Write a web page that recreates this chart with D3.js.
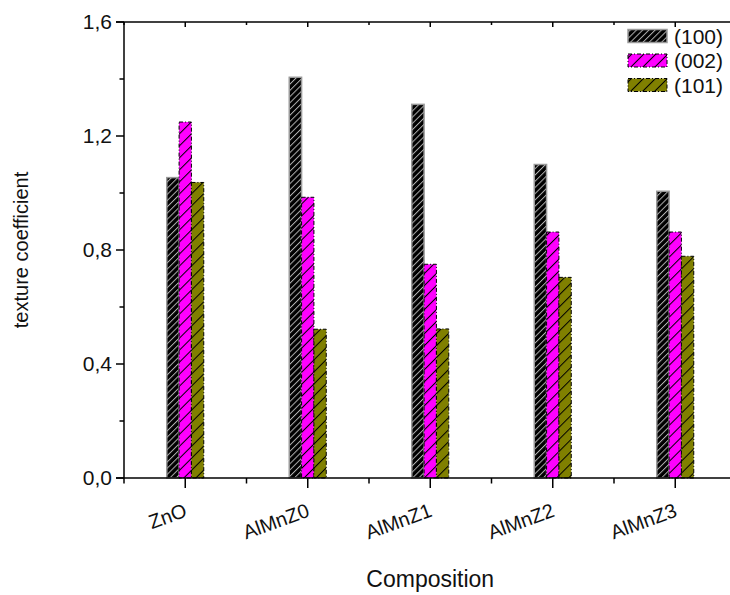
<!DOCTYPE html>
<html><head><meta charset="utf-8">
<script src="https://cdn.jsdelivr.net/npm/d3@7"></script>
<style>body{margin:0;background:#fff}svg{display:block}text{font-family:"Liberation Sans",Arial,sans-serif}</style>
</head><body>
<svg id="chart" width="730" height="595"></svg>
<script>
const categories = ["ZnO", "AlMnZ0", "AlMnZ1", "AlMnZ2", "AlMnZ3"];
const seriesNames = ["(100)", "(002)", "(101)"];
const values100 = [1.054, 1.406, 1.311, 1.10, 1.006];
const values002 = [1.249, 0.985, 0.750, 0.863, 0.863];
const values101 = [1.037, 0.522, 0.523, 0.704, 0.778];
const yTicks = [0, 0.4, 0.8, 1.2, 1.6];
const yTickLabels = ["0,0", "0,4", "0,8", "1,2", "1,6"];
const yMinorTicks = [0.2, 0.6, 1.0, 1.4];
const xTitle = "Composition";
const yTitle = "texture coefficient";

(function () {
const seriesValues = [values100, values002, values101];
const svg = d3.select("#chart");
const pLeft = 124, pRight = 736.5, pTop = 22, pBottom = 478;

const x0 = d3.scaleBand().domain(categories).range([pLeft, pRight]).paddingInner(0).paddingOuter(0);
const x1 = d3.scaleBand().domain(seriesNames).range([-18.5, 18.5]);
const y = d3.scaleLinear().domain([0, 1.6]).range([pBottom, pTop]);

const defs = svg.append("defs");
const pats = [
  {id: "p0", bg: "#000000", line: "#b0b0b0", s: 4.4, border: "#9a9a9a", dash: null},
  {id: "p1", bg: "#ff00ff", line: "#000000", s: 8.5, border: "#000000", dash: "4,2,1,2"},
  {id: "p2", bg: "#808000", line: "#000000", s: 8.5, border: "#000000", dash: "4,2,1,2"}
];
pats.forEach(p => {
  const pt = defs.append("pattern").attr("id", p.id).attr("patternUnits", "userSpaceOnUse")
    .attr("width", p.s).attr("height", p.s).attr("patternTransform", "rotate(45)");
  pt.append("rect").attr("width", p.s).attr("height", p.s).attr("fill", p.bg);
  pt.append("line").attr("x1", 0.5).attr("y1", 0).attr("x2", 0.5).attr("y2", p.s)
    .attr("stroke", p.line).attr("stroke-width", 1);
});

const g = svg.append("g");
seriesNames.forEach((s, si) => {
  g.selectAll(null).data(categories).enter().append("rect")
    .attr("x", c => x0(c) + x0.bandwidth() / 2 + x1(s))
    .attr("y", (c, i) => y(seriesValues[si][i]))
    .attr("width", x1.bandwidth())
    .attr("height", (c, i) => y(0) - y(seriesValues[si][i]))
    .attr("fill", `url(#${pats[si].id})`)
    .attr("stroke", pats[si].border)
    .attr("stroke-width", si === 0 ? 1.5 : 1)
    .attr("stroke-dasharray", pats[si].dash);
});

const ax = svg.append("g").attr("stroke", "#000").attr("stroke-width", 1.5);
ax.append("line").attr("x1", pLeft).attr("x2", pLeft).attr("y1", pTop).attr("y2", pBottom);
ax.append("line").attr("x1", pLeft - 8).attr("x2", 730).attr("y1", pBottom).attr("y2", pBottom);
ax.append("line").attr("x1", pLeft - 8).attr("x2", 730).attr("y1", pTop).attr("y2", pTop);

yTicks.forEach(v => ax.append("line").attr("x1", pLeft - 8).attr("x2", pLeft).attr("y1", y(v)).attr("y2", y(v)));
yMinorTicks.forEach(v => ax.append("line").attr("x1", pLeft - 4.5).attr("x2", pLeft).attr("y1", y(v)).attr("y2", y(v)));
svg.append("g").selectAll("text").data(yTicks).enter().append("text")
  .attr("x", pLeft - 12).attr("y", d => y(d)).attr("dy", "0.35em")
  .attr("text-anchor", "end").attr("font-size", 21).attr("fill", "#111")
  .text((d, i) => yTickLabels[i]);

categories.forEach(c => {
  const cx = x0(c) + x0.bandwidth() / 2;
  ax.append("line").attr("x1", cx).attr("x2", cx).attr("y1", pBottom).attr("y2", pBottom + 10);
  ax.append("line").attr("x1", cx).attr("x2", cx).attr("y1", pTop).attr("y2", pTop + 5);
  ax.append("line").attr("x1", x0(c)).attr("x2", x0(c)).attr("y1", pBottom).attr("y2", pBottom + 5.5);
  ax.append("line").attr("x1", x0(c)).attr("x2", x0(c)).attr("y1", pTop).attr("y2", pTop + 3);
});
svg.append("g").selectAll("text").data(categories).enter().append("text")
  .attr("transform", c => `translate(${x0(c) + x0.bandwidth() / 2 + 3},${pBottom + 38}) rotate(-20)`)
  .attr("text-anchor", "end").attr("font-size", 20).attr("fill", "#111")
  .text(c => c);

svg.append("text").attr("x", (pLeft + pRight) / 2).attr("y", 587).attr("text-anchor", "middle")
  .attr("font-size", 23).attr("fill", "#111").text(xTitle);
svg.append("text").attr("transform", `translate(28,${(pTop + pBottom) / 2}) rotate(-90)`)
  .attr("text-anchor", "middle").attr("font-size", 20).attr("fill", "#111").text(yTitle);

const lg = svg.append("g");
seriesNames.forEach((s, si) => {
  const cy = 36 + si * 24.5;
  lg.append("rect").attr("x", 628).attr("y", cy - 6.5).attr("width", 39).attr("height", 13)
    .attr("fill", `url(#${pats[si].id})`).attr("stroke", pats[si].border)
    .attr("stroke-width", si === 0 ? 1.5 : 1).attr("stroke-dasharray", pats[si].dash);
  lg.append("text").attr("x", 674).attr("y", cy).attr("dy", "0.36em").attr("font-size", 21)
    .attr("fill", "#111").text(s);
});
})();
</script>
</body></html>
